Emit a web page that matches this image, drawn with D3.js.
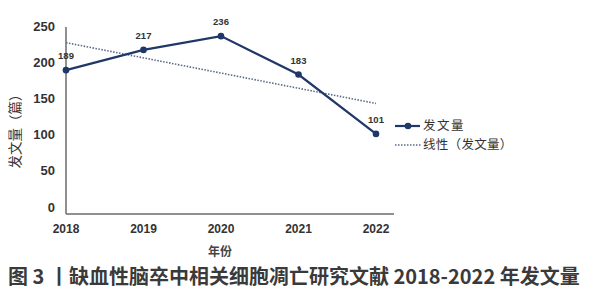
<!DOCTYPE html>
<html>
<head>
<meta charset="utf-8">
<script src="https://cdn.jsdelivr.net/npm/d3@7"></script>
<style>
  body { margin: 0; background: #fff; }
  svg text { font-family: "Liberation Sans", "Noto Sans CJK SC", sans-serif; }
  .cjk { font-family: "Noto Sans CJK SC", sans-serif; }
</style>
</head>
<body>
<div class="chart"></div>
<script>
// 数据
const years = ['2018', '2019', '2020', '2021', '2022']
const counts = [189, 217, 236, 183, 101]
// 线性趋势线两端
const trendEnds = [227, 143]
const yTicks = [0, 50, 100, 150, 200, 250]

const svg = d3.select('.chart').append('svg')
  .attr('width', 610).attr('height', 300)

const xScale = d3.scalePoint().domain(years).range([66, 376])
const yScale = d3.scaleLinear().domain([0, 250]).range([207, 26])

const navy = '#1f3868'
const axisColor = '#6b6b6b'

// y轴
svg.append('line')
  .attr('x1', 66).attr('x2', 66).attr('y1', 27).attr('y2', 214)
  .attr('stroke', axisColor).attr('stroke-width', 1.5)
// x轴
svg.append('line')
  .attr('x1', 66).attr('x2', 394).attr('y1', 214).attr('y2', 214)
  .attr('stroke', axisColor).attr('stroke-width', 1.5)

svg.append('g').selectAll('text').data(yTicks).join('text')
  .attr('x', 55).attr('y', d => yScale(d)).attr('dy', '0.35em')
  .attr('text-anchor', 'end').attr('font-size', 13).attr('font-weight', 'bold')
  .attr('fill', '#333').text(d => d)

svg.append('g').selectAll('text').data(years).join('text')
  .attr('x', d => xScale(d)).attr('y', 229).attr('dy', '0.35em')
  .attr('text-anchor', 'middle').attr('font-size', 12).attr('font-weight', 'bold')
  .attr('fill', '#333').text(d => d)

// 轴标题
svg.append('text').attr('class', 'cjk')
  .attr('transform', 'translate(15,128) rotate(-90)')
  .attr('text-anchor', 'middle').attr('dy', '0.35em')
  .attr('font-size', 13.5).attr('fill', '#333').text('发文量（篇）')

svg.append('text').attr('class', 'cjk')
  .attr('x', 220).attr('y', 252).attr('dy', '0.35em')
  .attr('text-anchor', 'middle').attr('font-size', 12).attr('font-weight', 'bold')
  .attr('fill', '#444').text('年份')

// 趋势线
svg.append('line')
  .attr('x1', xScale(years[0])).attr('y1', yScale(trendEnds[0]))
  .attr('x2', xScale(years[years.length - 1])).attr('y2', yScale(trendEnds[1]))
  .attr('stroke', '#5a6a8a').attr('stroke-width', 1.6).attr('stroke-dasharray', '1.5,1.5')

// 折线
const data = years.map((y, i) => ({ year: y, value: counts[i] }))
const line = d3.line().x(d => xScale(d.year)).y(d => yScale(d.value))
svg.append('path').datum(data)
  .attr('d', line).attr('fill', 'none')
  .attr('stroke', navy).attr('stroke-width', 2.2)

svg.append('g').selectAll('circle').data(data).join('circle')
  .attr('cx', d => xScale(d.year)).attr('cy', d => yScale(d.value))
  .attr('r', 3.3).attr('fill', navy)

svg.append('g').selectAll('text').data(data).join('text')
  .attr('x', d => xScale(d.year)).attr('y', d => yScale(d.value) - 14)
  .attr('dy', '0.35em').attr('text-anchor', 'middle')
  .attr('font-size', 9.5).attr('font-weight', 'bold').attr('fill', '#333')
  .text(d => d.value)

// 图例
const legend = svg.append('g')
legend.append('line').attr('x1', 395).attr('x2', 420).attr('y1', 126).attr('y2', 126)
  .attr('stroke', navy).attr('stroke-width', 2.2)
legend.append('circle').attr('cx', 408).attr('cy', 126).attr('r', 3.3).attr('fill', navy)
legend.append('text').attr('class', 'cjk').attr('x', 423).attr('y', 126).attr('dy', '0.35em')
  .attr('font-size', 12.5).attr('letter-spacing', 1.5).attr('fill', '#333').text('发文量')
legend.append('line').attr('x1', 395).attr('x2', 421).attr('y1', 145).attr('y2', 145)
  .attr('stroke', '#5a6a8a').attr('stroke-width', 1.6).attr('stroke-dasharray', '1.5,1.5')
legend.append('text').attr('class', 'cjk').attr('x', 423).attr('y', 145).attr('dy', '0.35em')
  .attr('font-size', 12.5).attr('letter-spacing', 0.3).attr('fill', '#333').text('线性（发文量）')

// 图题
svg.append('text').attr('class', 'cjk')
  .attr('x', 8).attr('y', 277).attr('dy', '0.35em')
  .attr('font-size', 20).attr('font-weight', 'bold').attr('fill', '#3a3a3a')
  .text('图 3 丨缺血性脑卒中相关细胞凋亡研究文献 2018-2022 年发文量')
</script>
</body>
</html>
